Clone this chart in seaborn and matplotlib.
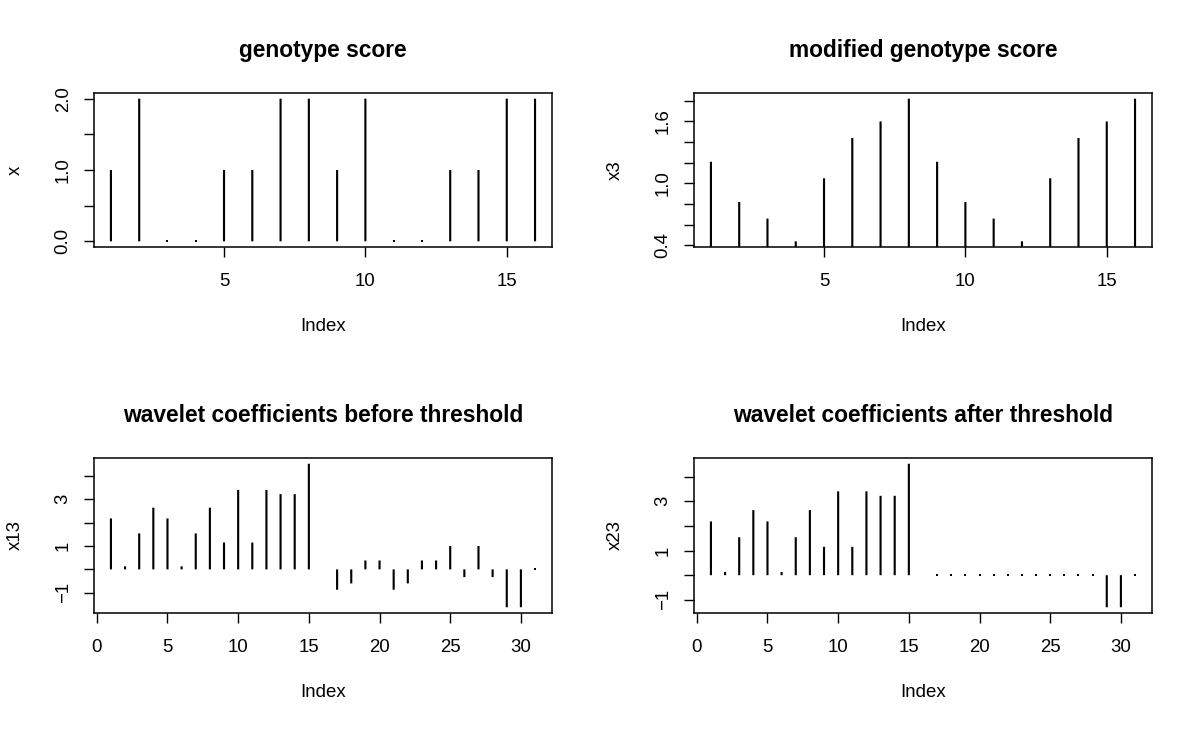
import numpy as np
import pandas as pd
import matplotlib
matplotlib.use("Agg")
import matplotlib.pyplot as plt
import seaborn as sns

# ── Data ──────────────────────────────────────────────────────────────────────
x_score = [1, 2, 0, 0, 1, 1, 2, 2, 1, 2, 0, 0, 1, 1, 2, 2]
x3_score = [1.21, 0.82, 0.66, 0.44, 1.05, 1.44, 1.60, 1.82,
            1.21, 0.82, 0.66, 0.44, 1.05, 1.44, 1.60, 1.82]
x13_coef = [2.18, 0.13, 1.54, 2.64, 2.18, 0.13, 1.54, 2.64, 1.15, 3.40,
            1.15, 3.40, 3.22, 3.22, 4.52, np.nan, -0.87, -0.60, 0.38, 0.38,
            -0.87, -0.60, 0.38, 0.38, 1.00, -0.33, 1.00, -0.33, -1.62, -1.62,
            0]
x23_coef = [2.18, 0.13, 1.54, 2.64, 2.18, 0.13, 1.54, 2.64, 1.15, 3.40,
            1.15, 3.40, 3.22, 3.22, 4.52, np.nan, 0, 0, 0, 0,
            0, 0, 0, 0, 0, 0, 0, 0, -1.30, -1.30, 0]

titles = ["genotype score", "modified genotype score",
          "wavelet coefficients before threshold",
          "wavelet coefficients after threshold"]
ylabels = ["x", "x3", "x13", "x23"]
yticks = [[0, 0.5, 1.0, 1.5, 2.0],
          [0.4, 0.6, 0.8, 1.0, 1.2, 1.4, 1.6, 1.8],
          [-1, 0, 1, 2, 3, 4],
          [-1, 0, 1, 2, 3, 4]]
yticklabels = [["0.0", "", "1.0", "", "2.0"],
               ["0.4", "", "", "1.0", "", "", "1.6", ""],
               ["\u22121", "", "1", "", "3", ""],
               ["\u22121", "", "1", "", "3", ""]]
xticks = [[5, 10, 15], [5, 10, 15],
          [0, 5, 10, 15, 20, 25, 30], [0, 5, 10, 15, 20, 25, 30]]

series = [x_score, x3_score, x13_coef, x23_coef]

# ── Style ─────────────────────────────────────────────────────────────────────
sns.set_theme(style="ticks")
plt.rcParams['font.family'] = ['Liberation Sans', 'DejaVu Sans']
plt.rcParams['axes.unicode_minus'] = True
for key in ['text.color', 'axes.labelcolor', 'xtick.color', 'ytick.color',
            'axes.edgecolor']:
    plt.rcParams[key] = 'black'

fig = plt.figure(figsize=(12, 7.3), dpi=100)
positions = [(0.0783, 0.6616, 0.3817, 0.2110),
             (0.5783, 0.6616, 0.3817, 0.2110),
             (0.0783, 0.1603, 0.3817, 0.2123),
             (0.5783, 0.1603, 0.3817, 0.2123)]

for k, vals in enumerate(series):
    ax = fig.add_axes(positions[k])
    n = len(vals)
    df = pd.DataFrame({"Index": np.arange(1, n + 1), "value": vals})
    stems = df.dropna()
    bar_w = 0.075 if n < 20 else 0.15
    sns.barplot(data=stems, x="Index", y="value", native_scale=True,
                width=bar_w, color="black", errorbar=None, linewidth=0,
                saturation=1, ax=ax)
    # no pixel snapping, so all stems come out the same width
    for p in ax.patches:
        p.set_snap(False)
    zeros = stems[stems["value"] == 0]
    if len(zeros):
        sns.scatterplot(data=zeros, x="Index", y="value", marker="s", s=2,
                        color="black", linewidth=0, ax=ax, clip_on=False)

    # R-style ranges: data range padded by 4%
    vlo, vhi = np.nanmin(vals), np.nanmax(vals)
    ypad = 0.04 * (vhi - vlo)
    ax.set_ylim(vlo - ypad, vhi + ypad)
    xpad = 0.04 * (n - 1)
    ax.set_xlim(1 - xpad, n + xpad)

    ax.set_xticks(xticks[k])
    ax.set_xticklabels([str(t) for t in xticks[k]])
    ax.set_yticks(yticks[k])
    ax.set_yticklabels(yticklabels[k], rotation=90, va="center")

    ax.tick_params(axis="both", direction="out", length=7, width=1.0,
                   color="black", labelsize=13.4, labelcolor="black")
    ax.tick_params(axis="x", pad=12)
    ax.tick_params(axis="y", pad=9)
    for sp in ax.spines.values():
        sp.set_visible(True)
        sp.set_linewidth(1.1)
        sp.set_color("black")

    ax.set_title(titles[k], fontsize=16.4, fontweight="bold", pad=26)
    ax.set_xlabel("Index", fontsize=13.4, labelpad=20)
    ax.set_ylabel(ylabels[k], fontsize=13.4, labelpad=22)
    ax.set_facecolor("white")

fig.savefig("out.png", dpi=100, facecolor="white")
